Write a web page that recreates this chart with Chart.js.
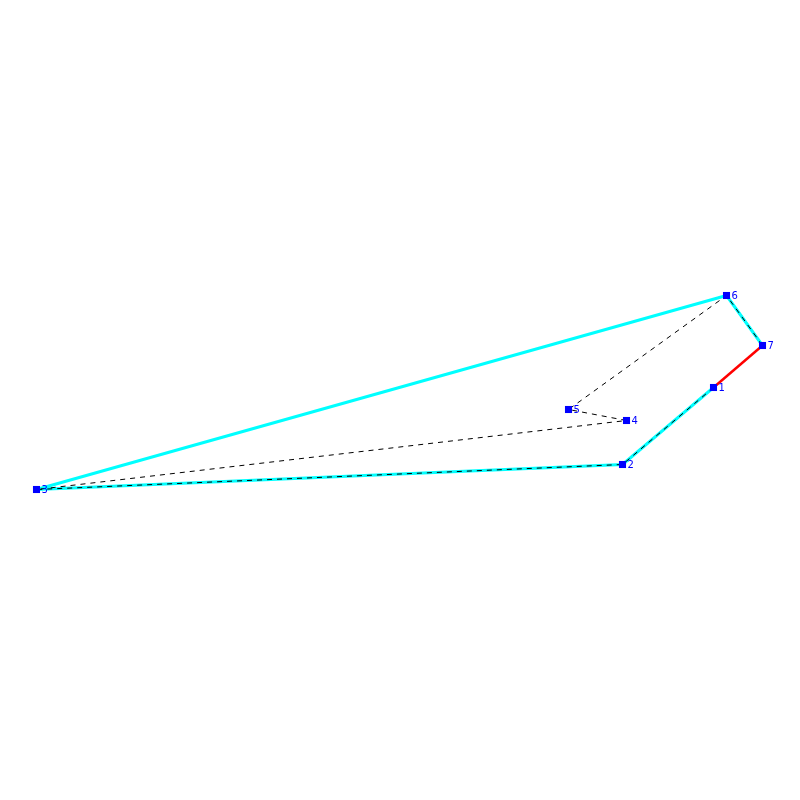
<!DOCTYPE html>
<html>
<head>
<meta charset="utf-8">
<style>
  html, body { margin: 0; padding: 0; background: #fff; }
  #wrap { width: 800px; height: 800px; }
</style>
<script src="https://cdn.jsdelivr.net/npm/chart.js@4"></script>
</head>
<body>
<div id="wrap"><canvas id="chart"></canvas></div>
<script>
const nodeLabels = ['1', '2', '3', '4', '5', '6', '7'];
const nodeX = [713.5, 622.5, 36.5, 626.5, 568.5, 726.5, 762.5];
const nodeY = [387.5, 464.5, 489.5, 420.5, 409.5, 295.5, 345.5];

// tours, as node numbers
const cyanPath = [1, 2, 3, 6, 7];
const redPath = [7, 1];
const dashedPath = [1, 2, 3, 4, 5, 6, 7];

const pathPoints = path => path.map(n => ({ x: nodeX[n - 1], y: nodeY[n - 1] }));

const nodeText = {
    id: 'nodeText',
    afterDatasetsDraw(chart) {
        const { ctx, scales: { x, y } } = chart;
        ctx.save();
        ctx.font = '10px "DejaVu Sans"';
        ctx.fillStyle = '#0000ff';
        ctx.textBaseline = 'middle';
        nodeLabels.forEach((label, i) => {
            ctx.fillText(label, x.getPixelForValue(nodeX[i]) + 5, y.getPixelForValue(nodeY[i]) + 1);
        });
        ctx.restore();
    },
};

new Chart(document.getElementById('chart'), {
    type: 'scatter',
    data: {
        datasets: [
            { data: pathPoints(nodeLabels.map((_, i) => i + 1)), showLine: false, pointStyle: 'rect', pointRadius: 5, pointBackgroundColor: '#0000ff', pointBorderWidth: 0, order: 0 },
            { data: pathPoints(dashedPath), showLine: true, borderColor: '#000000', borderWidth: 1, borderDash: [5, 5], pointRadius: 0, order: 1 },
            { data: pathPoints(redPath), showLine: true, borderColor: '#ff0000', borderWidth: 2.5, pointRadius: 0, order: 2 },
            { data: pathPoints(cyanPath), showLine: true, borderColor: '#00ffff', borderWidth: 3, borderJoinStyle: 'round', pointRadius: 0, order: 3 },
        ],
    },
    options: {
        responsive: true,
        maintainAspectRatio: false,
        animation: false,
        layout: { padding: 0, autoPadding: false },
        plugins: { legend: { display: false }, tooltip: { enabled: false } },
        scales: {
            x: { display: false, min: 0, max: 800 },
            y: { display: false, min: 0, max: 800, reverse: true },
        },
    },
    plugins: [nodeText],
});
</script>
</body>
</html>
